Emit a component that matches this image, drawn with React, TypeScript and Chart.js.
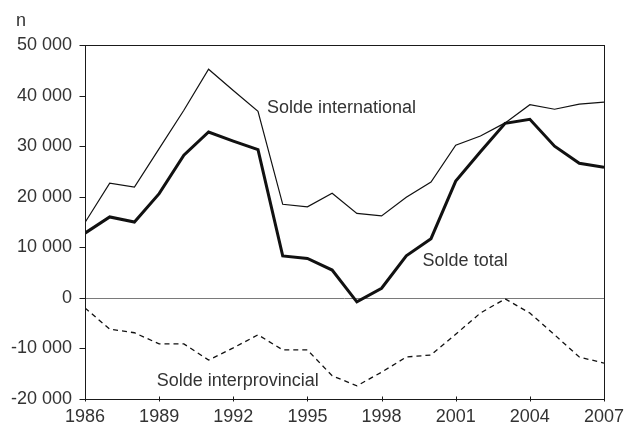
import React, { useEffect, useRef } from "react";
import { Chart, registerables } from "chart.js";

Chart.register(...registerables);

const years = [1986, 1987, 1988, 1989, 1990, 1991, 1992, 1993, 1994, 1995, 1996, 1997, 1998, 1999, 2000, 2001, 2002, 2003, 2004, 2005, 2006, 2007];
const soldeInternational = [14900, 22700, 21900, 29500, 37100, 45200, 41000, 36900, 18500, 18000, 20700, 16700, 16200, 19900, 22900, 30200, 32000, 34600, 38200, 37300, 38300, 38700];
const soldeTotal = [12800, 16000, 15000, 20600, 28200, 32800, 31000, 29300, 8300, 7800, 5500, -800, 1900, 8300, 11700, 23100, 28900, 34500, 35300, 30000, 26600, 25800];
const soldeInterprovincial = [-2000, -6200, -6900, -9100, -9100, -12300, -9900, -7300, -10300, -10300, -15400, -17400, -14700, -11700, -11300, -7200, -3000, -200, -3000, -7300, -11700, -12900];

const seriesLabels = ["Solde international", "Solde total", "Solde interprovincial"];
const unitLabel = "n";

const FONT = "'Liberation Sans', Arial, Helvetica, sans-serif";
const TEXT = "#333333";

function fmt(v: number): string {
  const s = Math.abs(v).toString().replace(/\B(?=(\d{3})+(?!\d))/g, " ");
  return (v < 0 ? "-" : "") + s;
}

const decorPlugin = {
  id: "decor",
  beforeDatasetsDraw(chart: any) {
    const { ctx, chartArea } = chart;
    const ys = chart.scales.y;
    const y0 = Math.round(ys.getPixelForValue(0)) + 0.5;
    ctx.save();
    ctx.strokeStyle = "#7a7a7a";
    ctx.lineWidth = 1;
    ctx.beginPath();
    ctx.moveTo(chartArea.left, y0);
    ctx.lineTo(chartArea.right, y0);
    ctx.stroke();
    ctx.restore();
  },
  afterDatasetsDraw(chart: any) {
    const { ctx, chartArea } = chart;
    const xs = chart.scales.x;
    const ys = chart.scales.y;
    const L = Math.round(chartArea.left) + 0.5;
    const R = Math.round(chartArea.right) + 0.5;
    const T = Math.round(chartArea.top) + 0.5;
    const B = Math.round(chartArea.bottom) + 0.5;
    ctx.save();
    ctx.strokeStyle = "#1a1a1a";
    ctx.lineWidth = 1;
    ctx.strokeRect(L, T, R - L, B - T);
    ctx.beginPath();
    ys.ticks.forEach((t: any) => {
      const y = Math.round(ys.getPixelForValue(t.value)) + 0.5;
      const len = t.value % 10000 === 0 ? 6 : 3;
      ctx.moveTo(L - len, y);
      ctx.lineTo(L, y);
    });
    xs.ticks.forEach((t: any) => {
      const x = Math.round(xs.getPixelForValue(t.value)) + 0.5;
      ctx.moveTo(x, B - 3);
      ctx.lineTo(x, B + 2);
    });
    ctx.stroke();

    ctx.fillStyle = TEXT;
    ctx.font = `18px ${FONT}`;
    ctx.textAlign = "left";
    ctx.textBaseline = "alphabetic";
    ctx.fillText(seriesLabels[0], xs.getPixelForValue(1993.36), ys.getPixelForValue(36600));
    ctx.fillText(seriesLabels[1], xs.getPixelForValue(1999.66), ys.getPixelForValue(6300));
    ctx.fillText(seriesLabels[2], xs.getPixelForValue(1988.9), ys.getPixelForValue(-17400));
    ctx.fillText(unitLabel, chartArea.left - 69, chartArea.top - 19);
    ctx.restore();
  },
};

export default function App() {
  const ref = useRef<HTMLCanvasElement | null>(null);
  useEffect(() => {
    if (!ref.current) return;
    const chart = new Chart(ref.current, {
      type: "line",
      data: {
        labels: years,
        datasets: [
          {
            label: seriesLabels[0],
            data: years.map((y, i) => ({ x: y, y: soldeInternational[i] })),
            borderColor: "#111111",
            borderWidth: 1.2,
            pointRadius: 0,
            tension: 0,
            fill: false,
          },
          {
            label: seriesLabels[1],
            data: years.map((y, i) => ({ x: y, y: soldeTotal[i] })),
            borderColor: "#111111",
            borderWidth: 3,
            pointRadius: 0,
            tension: 0,
            fill: false,
          },
          {
            label: seriesLabels[2],
            data: years.map((y, i) => ({ x: y, y: soldeInterprovincial[i] })),
            borderColor: "#111111",
            borderWidth: 1.3,
            borderDash: [5, 4],
            pointRadius: 0,
            tension: 0,
            fill: false,
          },
        ],
      },
      options: {
        animation: false,
        responsive: false,
        maintainAspectRatio: false,
        devicePixelRatio: 1,
        layout: { padding: { top: 45, right: 24, left: 0, bottom: 0 } },
        plugins: { legend: { display: false }, tooltip: { enabled: false } },
        scales: {
          x: {
            type: "linear",
            min: 1986,
            max: 2007,
            grid: { display: false, drawTicks: false },
            border: { display: false },
            afterFit: (s: any) => {
              s.height = 27;
              s.paddingLeft = 0;
              s.paddingRight = 0;
            },
            ticks: {
              stepSize: 3,
              autoSkip: false,
              maxRotation: 0,
              padding: 7,
              color: TEXT,
              font: { family: FONT, size: 18 },
              callback: (v: any) => String(v),
            },
          },
          y: {
            min: -20000,
            max: 50000,
            grid: { display: false, drawTicks: false },
            border: { display: false },
            afterFit: (s: any) => {
              s.width = 85;
              s.paddingTop = 0;
              s.paddingBottom = 0;
            },
            ticks: {
              stepSize: 5000,
              autoSkip: false,
              padding: 13,
              color: TEXT,
              font: { family: FONT, size: 18 },
              callback: (v: any) => (Number(v) % 10000 === 0 ? fmt(Number(v)) : null),
            },
          },
        },
      },
      plugins: [decorPlugin],
    });
    return () => chart.destroy();
  }, []);
  return (
    <div style={{ position: "absolute", left: 0, top: 0, width: 628, height: 426, background: "#fff" }}>
      <canvas ref={ref} width={628} height={426} style={{ display: "block", width: 628, height: 426 }} />
    </div>
  );
}
